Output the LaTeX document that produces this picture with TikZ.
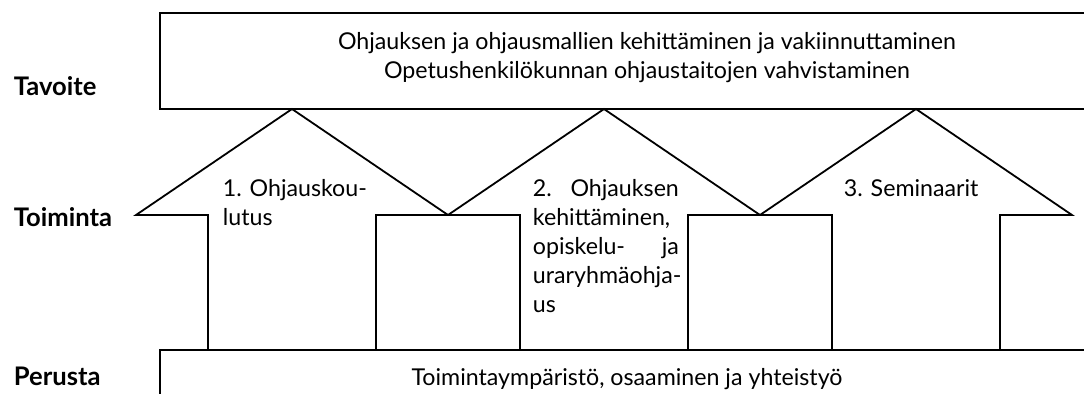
\documentclass[tikz,border=0pt]{standalone}
\usepackage{fontspec}
\setmainfont{Lato}

\def\A{312}% width of one arrow head
\def\S{72}%  inset of the shaft

\tikzset{
  teksti/.style={font=\fontsize{11.6}{14.5}\selectfont, inner sep=0},
  otsikko/.style={font=\fontsize{12.8}{14.5}\selectfont\bfseries, inner sep=0, anchor=base west}
}

\begin{document}
\begin{tikzpicture}[x=0.5pt, y=-0.5pt, line width=0.9pt]
            \useasboundingbox (0,0) rectangle (1084,393);
            \draw (160,13) rectangle (1140,109);
            \draw (160,350) rectangle (1140,430);
            \foreach \a in {136,448,760} {
                \draw (\a+\S,350) -- (\a+\S,215) -- (\a,215) -- (\a+\A/2,109) -- (\a+\A,215) -- (\a+\A-\S,215) -- (\a+\A-\S,350);
            }

            \node[otsikko] (tavoite) at (13,95) {Tavoite};
            \node[otsikko] (toiminta) at (13,226) {Toiminta};
            \node[otsikko] (perusta) at (13,385) {Perusta};

            \node[teksti, align=center] (tavoiteteksti) at (647,58) {Ohjauksen ja ohjausmallien kehittäminen ja vakiinnuttaminen\\Opetushenkilökunnan ohjaustaitojen vahvistaminen};
            \node[teksti, anchor=base] (perustateksti) at (627,385) {Toimintaympäristö, osaaminen ja yhteistyö};

            \node[teksti, text width=72pt, align=left, anchor=base west] (koulutus) at (222,196) {1.\hfill Ohjauskou-\\lutus};
            \node[teksti, text width=73pt, align=left, anchor=base west] (kehittaminen) at (532,196) {2.\hfill Ohjauksen\\kehittäminen,\\opiskelu-\hfill ja\\\mbox{uraryhmäohja-}\\us};
            \node[teksti, anchor=base west] (seminaarit) at (843,196) {3. Seminaarit};

        \end{tikzpicture}
\end{document}
